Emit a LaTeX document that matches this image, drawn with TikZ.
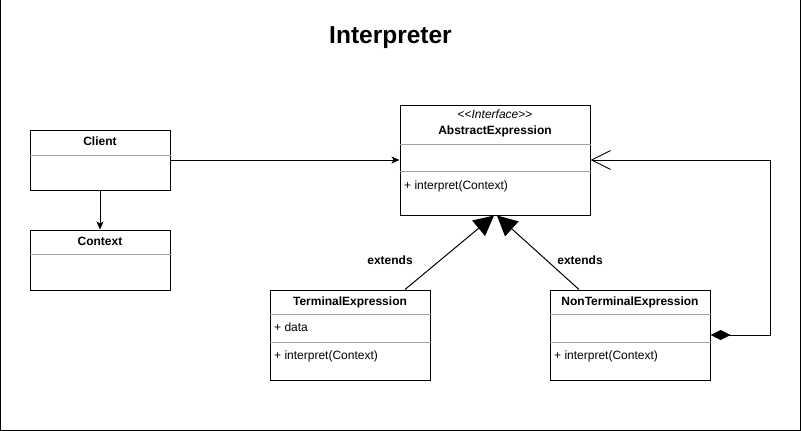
\documentclass[tikz,border=0pt]{standalone}
\usepackage{fontspec}
\setmainfont{Liberation Sans}
\usetikzlibrary{arrows.meta}
\definecolor{sepgray}{RGB}{160,160,160}
\tikzset{
  classbox/.style={draw, line width=1pt, inner sep=0pt},
  sepline/.style={draw=sepgray, line width=1pt},
  cname/.style={anchor=base, inner sep=0pt, font=\fontsize{12}{14}\selectfont\bfseries},
  member/.style={anchor=base west, inner sep=0pt, font=\fontsize{12}{14}\selectfont},
  assoc/.style={line width=1pt, -{Stealth[length=8pt,width=7pt,inset=2pt]}},
  extendsline/.style={line width=1pt, -{Triangle[length=20pt,width=20pt]}},
  aggline/.style={line width=1pt, {Diamond[length=20pt,width=10pt]}-{Straight Barb[length=19pt,width=19pt]}}
}
\begin{document}
\begin{tikzpicture}[x=1pt, y=-1pt]
    \useasboundingbox (0,0) rectangle (801,431);
    \draw[line width=1pt] (0.5,-3) rectangle (800.5,430.5);
    \node[anchor=base, inner sep=0pt, font=\fontsize{24.5}{28}\selectfont\bfseries] (title) at (390.5,43) {Interpreter};

    \node[classbox, minimum width=140pt, minimum height=60pt] (client) at (100,160) {};
    \node[cname] (clientname) at (100,145) {Client};
    \draw[sepline] (client.west |- 0,155) -- (client.east |- 0,155);

    \node[classbox, minimum width=140pt, minimum height=60pt] (context) at (100,260) {};
    \node[cname] (contextname) at (100,245) {Context};
    \draw[sepline] (context.west |- 0,254) -- (context.east |- 0,254);

    \node[classbox, minimum width=190pt, minimum height=110pt] (abstract) at (495,160) {};
    \node[cname, font=\fontsize{12}{14}\selectfont] (stereo) at (495,118) {<\kern0pt<\textit{Interface}>\kern0pt>};
    \node[cname] (abstractname) at (495,134) {AbstractExpression};
    \draw[sepline] (abstract.west |- 0,144) -- (abstract.east |- 0,144);
    \draw[sepline] (abstract.west |- 0,171) -- (abstract.east |- 0,171);
    \node[member] (abstractop) at (404,189) {+ interpret(Context)};

    \node[classbox, minimum width=160pt, minimum height=90pt] (terminal) at (350,335) {};
    \node[cname] (terminalname) at (350,305) {TerminalExpression};
    \draw[sepline] (terminal.west |- 0,314) -- (terminal.east |- 0,314);
    \node[member] (terminaldata) at (274,331) {+ data};
    \draw[sepline] (terminal.west |- 0,342) -- (terminal.east |- 0,342);
    \node[member] (terminalop) at (274,359) {+ interpret(Context)};

    \node[classbox, minimum width=160pt, minimum height=90pt] (nonterminal) at (630,335) {};
    \node[cname] (nonterminalname) at (630,305) {NonTerminalExpression};
    \draw[sepline] (nonterminal.west |- 0,314) -- (nonterminal.east |- 0,314);
    \draw[sepline] (nonterminal.west |- 0,342) -- (nonterminal.east |- 0,342);
    \node[member] (nonterminalop) at (554,359) {+ interpret(Context)};

    \draw[assoc] (client) -- (abstract);
    \draw[assoc] (client) -- (context);
    \draw[extendsline] ([xshift=55pt]terminal.north) -- ([xshift=-1pt]abstract.south);
    \draw[extendsline] ([xshift=-51pt]nonterminal.north) -- ([xshift=2pt]abstract.south);
    \node[cname] (extendsleft) at (390,264) {extends};
    \node[cname] (extendsright) at (580,264) {extends};
    \draw[aggline] (nonterminal.east) -- ++(60,0) |- (abstract.east);
\end{tikzpicture}
\end{document}
